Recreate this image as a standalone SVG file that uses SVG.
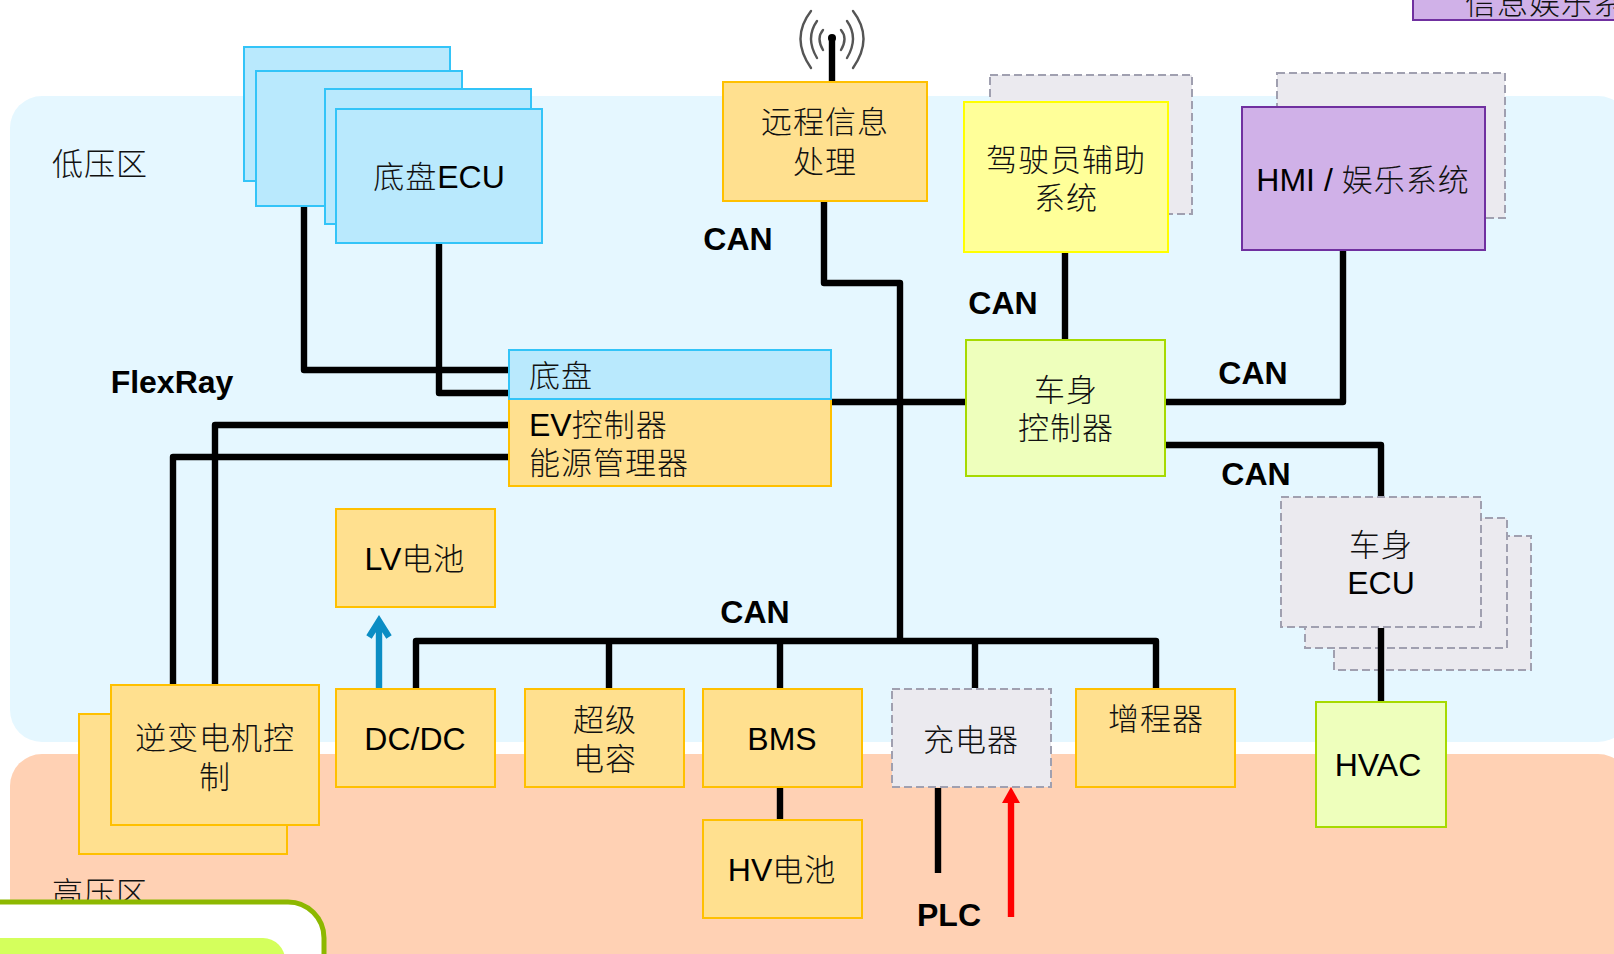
<svg xmlns="http://www.w3.org/2000/svg" width="1614" height="954" viewBox="0 0 1614 954">
<style>
text{font-family:"Liberation Sans","Noto Sans CJK SC",sans-serif;font-size:32px;fill:#000;text-anchor:middle}
.cjk{font-size:31px;font-weight:300;letter-spacing:1px;fill:#111}
.lat{font-size:32px;font-weight:400;letter-spacing:0;fill:#000}
.b{font-weight:700}
.o{fill:#FFE08F;stroke:#FFC000;stroke-width:2}
.bl{fill:#B9E9FD;stroke:#33C4F8;stroke-width:2}
.g{fill:#EBEAEF;stroke:#A0A0B0;stroke-width:2;stroke-dasharray:8 4}
.l{fill:#EEFFBC;stroke:#A6DA00;stroke-width:2}
.p{fill:#D0B1E8;stroke:#7030A0;stroke-width:2}
.w{fill:none;stroke:#000;stroke-width:6.4;stroke-linejoin:round}
.a{fill:none;stroke:#555;stroke-width:2.4;stroke-linecap:round}
</style>
<rect width="1614" height="954" fill="#fff"/>
<g id="zones">
<rect x="10" y="96" width="1620" height="646" rx="32" fill="#E5F7FF"/>
<rect x="10" y="754" width="1620" height="240" rx="32" fill="#FFD1B4"/>
<text class="cjk" x="100" y="175">低压区</text>
<text class="cjk" x="100" y="904">高压区</text>
</g>
<g id="legend-top">
<rect x="1413" y="-30" width="240" height="50" class="p"/>
<text class="cjk" x="1465" y="14" style="text-anchor:start">信息娱乐系统</text>
</g>
<g id="antenna">
<path class="a" d="M823 30Q816 38 823 50M841 30Q848 38 841 50"/>
<path class="a" d="M817 21Q805 38 817 58M847 21Q859 38 847 58"/>
<path class="a" d="M811 11Q790 38 811 68M853 11Q874 38 853 68"/>
<circle cx="832" cy="38" r="4" fill="#000"/>
</g>
<g id="chassis-ecu-stack">
<rect x="244" y="47" width="206" height="134" class="bl"/>
<rect x="256" y="71" width="206" height="135" class="bl"/>
<rect x="325" y="89" width="206" height="135" class="bl"/>
<rect x="336" y="109" width="206" height="134" class="bl"/>
<text class="cjk" x="439" y="188">底盘<tspan class="lat">ECU</tspan></text>
</g>
<g id="remote">
<rect x="723" y="82" width="204" height="119" class="o"/>
<text class="cjk" x="825" y="133">远程信息</text>
<text class="cjk" x="825" y="173">处理</text>
</g>
<g id="driver-assist">
<rect x="990" y="75" width="202" height="139" class="g"/>
<rect x="964" y="102" width="204" height="150" fill="#FFFF99" stroke="#FFFF00" stroke-width="2"/>
<text class="cjk" x="1066" y="171">驾驶员辅助</text>
<text class="cjk" x="1066" y="209">系统</text>
</g>
<g id="hmi">
<rect x="1277" y="73" width="228" height="145" class="g"/>
<rect x="1242" y="107" width="243" height="143" class="p"/>
<text class="cjk" x="1363" y="191"><tspan class="lat">HMI / </tspan>娱乐系统</text>
</g>
<g id="chassis-ev">
<rect x="509" y="399" width="322" height="87" class="o"/>
<rect x="509" y="350" width="322" height="49" class="bl"/>
<text class="cjk" x="529" y="387" style="text-anchor:start">底盘</text>
<text class="cjk" x="529" y="436" style="text-anchor:start"><tspan class="lat">EV</tspan>控制器</text>
<text class="cjk" x="529" y="474" style="text-anchor:start">能源管理器</text>
</g>
<g id="body-controller">
<rect x="966" y="340" width="199" height="136" class="l"/>
<text class="cjk" x="1066" y="401">车身</text>
<text class="cjk" x="1066" y="439">控制器</text>
</g>
<g id="body-ecu">
<rect x="1334" y="536" width="197" height="134" class="g"/>
<rect x="1305" y="518" width="202" height="130" class="g"/>
<rect x="1281" y="497" width="200" height="130" class="g"/>
<text class="cjk" x="1381" y="556">车身</text>
<text x="1381" y="594">ECU</text>
</g>
<g id="hvac">
<rect x="1316" y="702" width="130" height="125" class="l"/>
<text x="1378" y="776">HVAC</text>
</g>
<g id="lv-battery">
<rect x="336" y="509" width="159" height="98" class="o"/>
<text class="cjk" x="415" y="570"><tspan class="lat">LV</tspan>电池</text>
</g>
<g id="inverter">
<rect x="79" y="714" width="208" height="140" class="o"/>
<rect x="111" y="685" width="208" height="140" class="o"/>
<text class="cjk" x="215" y="749">逆变电机控</text>
<text class="cjk" x="215" y="788">制</text>
</g>
<g id="dcdc">
<rect x="336" y="689" width="159" height="98" class="o"/>
<text x="415" y="750">DC/DC</text>
</g>
<g id="supercap">
<rect x="525" y="689" width="159" height="98" class="o"/>
<text class="cjk" x="605" y="731">超级</text>
<text class="cjk" x="605" y="770">电容</text>
</g>
<g id="bms">
<rect x="703" y="689" width="159" height="98" class="o"/>
<text x="782" y="750">BMS</text>
</g>
<g id="hv-battery">
<rect x="703" y="820" width="159" height="98" class="o"/>
<text class="cjk" x="782" y="881"><tspan class="lat">HV</tspan>电池</text>
</g>
<g id="charger">
<rect x="892" y="689" width="159" height="98" class="g"/>
<text class="cjk" x="971" y="751">充电器</text>
</g>
<g id="range-extender">
<rect x="1076" y="689" width="159" height="98" class="o"/>
<text class="cjk" x="1156" y="730">增程器</text>
</g>
<g id="connectors">
<path class="w" d="M832 38V81"/>
<path class="w" d="M304 207V370H508"/>
<path class="w" d="M439 244V393H508"/>
<path class="w" d="M508 425H215V684"/>
<path class="w" d="M508 457H173V684"/>
<path class="w" d="M824 202V283H900V641"/>
<path class="w" d="M416 688V641H1156V688"/>
<path class="w" d="M609 641V688M780 641V688M975 641V688M780 788V819M938 788V873"/>
<path class="w" d="M832 402H965"/>
<path class="w" d="M1065 253V339"/>
<path class="w" d="M1166 402H1343V251"/>
<path class="w" d="M1166 445H1381V496"/>
<path class="w" d="M1381 628V701"/>
<path d="M379 688V621M369 637L379 621L389 637" fill="none" stroke="#0B8DC4" stroke-width="6.4"/>
<path d="M1011 917V800" fill="none" stroke="#f00" stroke-width="6.4"/>
<path d="M1011 787L1020 803H1002Z" fill="#f00"/>
</g>
<g id="labels">
<text class="b" x="738" y="250">CAN</text>
<text class="b" x="1003" y="314">CAN</text>
<text class="b" x="1253" y="384">CAN</text>
<text class="b" x="1256" y="485">CAN</text>
<text class="b" x="755" y="623">CAN</text>
<text class="b" x="172" y="393">FlexRay</text>
<text class="b" x="949" y="926">PLC</text>
</g>
<g id="legend-bottom">
<rect x="-60" y="902" width="384" height="100" rx="36" fill="#fff" stroke="#8DB800" stroke-width="5"/>
<rect x="-40" y="938" width="325" height="60" rx="22" fill="#D4FF5C"/>
</g>
</svg>
